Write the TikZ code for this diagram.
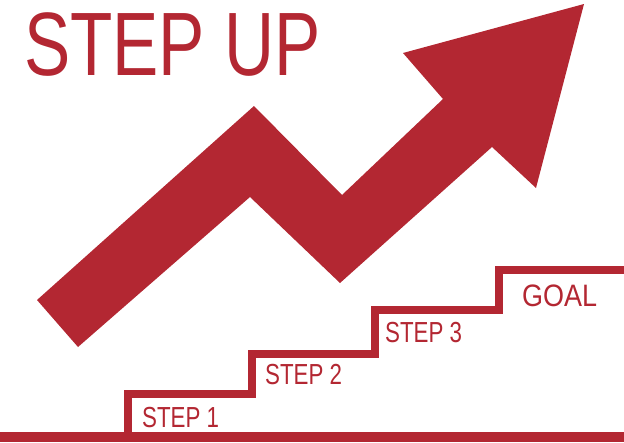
\documentclass[tikz,border=0pt]{standalone}
\usepackage{fontspec}
\newfontfamily\stepfont[FakeStretch=0.77]{Liberation Sans}
\newfontfamily\goalfont[FakeStretch=0.87]{Liberation Sans}
\definecolor{stepred}{RGB}{179,39,50}
\begin{document}
\begin{tikzpicture}[x=1pt,y=-1pt,line join=miter,
  steplabel/.style={anchor=base west,inner sep=0pt,text=stepred,font=\stepfont\fontsize{29}{29}\selectfont},
  stairline/.style={draw=stepred,line width=8pt}]
  \useasboundingbox (0,0) rectangle (624,442);
  % arrow
  \fill[stepred] (37,300)--(254,106)--(342,195)--(443,99)--(403,53)--(584,4)
    --(536,188)--(492,147)--(340,283)--(250,197)--(78,347)--cycle;
  % stairs
  \draw[stepred,line width=10pt] (0,437)--(624,437);
  \draw[stairline] (128,432)--(128,394)--(252,394)--(252,354)--(375,354)
    --(375,310)--(499,310)--(499,270)--(624,270);
  \node[anchor=base west,inner sep=0pt,text=stepred,font=\stepfont\fontsize{90}{90}\selectfont] (title) at (24,75) {STEP UP};
  \node[steplabel] (s1) at (142,427) {STEP 1};
  \node[steplabel] (s2) at (265,384) {STEP 2};
  \node[steplabel] (s3) at (385,342) {STEP 3};
  \node[steplabel,font=\goalfont\fontsize{31}{31}\selectfont] (goal) at (522,306) {GOAL};
\end{tikzpicture}
\end{document}
